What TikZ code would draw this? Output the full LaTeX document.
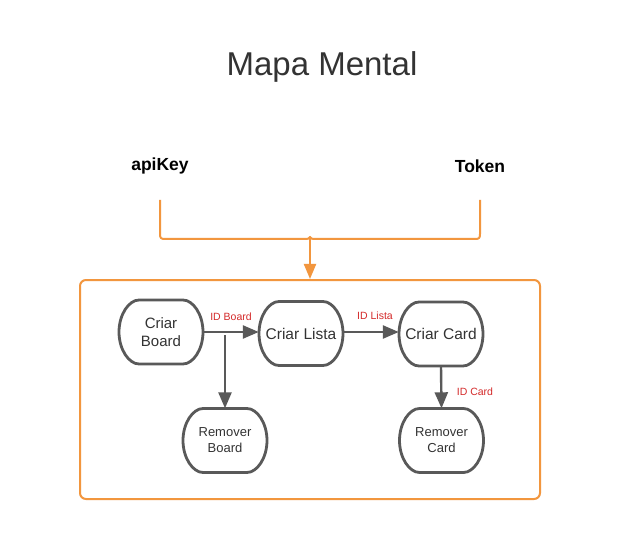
\documentclass[tikz,border=0pt]{standalone}
\usepackage{fontspec}
\setmainfont{Liberation Sans}
\usetikzlibrary{arrows.meta}
\definecolor{orng}{HTML}{F2963E}
\definecolor{lgray}{HTML}{595959}
\definecolor{txt}{HTML}{333333}
\definecolor{lred}{HTML}{D42A2A}
\tikzset{
  stadium/.style={minimum width=84pt, minimum height=64pt, text=txt, align=center, inner sep=0pt},
  ovl/.style={draw=lgray, line width=2.8pt},
  conn/.style={draw=lgray, line width=2.4pt, -{Triangle[length=16pt,width=13pt]}},
  idlabel/.style={text=lred, font=\fontsize{10.5}{12}\selectfont, inner sep=0pt},
  orline/.style={draw=orng, line width=2pt},
}
\newcommand\drawoval[1]{%
  \draw[ovl] ([shift={(-22,-32)}]#1.center) -- ([shift={(22,-32)}]#1.center)
    .. controls ([shift={(32,-32)}]#1.center) and ([shift={(42,-17.7)}]#1.center) .. ([shift={(42,0)}]#1.center)
    .. controls ([shift={(42,17.7)}]#1.center) and ([shift={(32,32)}]#1.center) .. ([shift={(22,32)}]#1.center)
    -- ([shift={(-22,32)}]#1.center)
    .. controls ([shift={(-32,32)}]#1.center) and ([shift={(-42,17.7)}]#1.center) .. ([shift={(-42,0)}]#1.center)
    .. controls ([shift={(-42,-17.7)}]#1.center) and ([shift={(-32,-32)}]#1.center) .. ([shift={(-22,-32)}]#1.center) -- cycle;}
\begin{document}
\begin{tikzpicture}[x=1pt,y=-1pt]
\useasboundingbox (0,0) rectangle (640,540);
\fill[white] (0,0) rectangle (640,540);
\node[text=txt, font=\fontsize{33}{38}\selectfont] (title) at (322,67) {Mapa Mental};
\node[font=\bfseries\fontsize{17.5}{20}\selectfont] (api) at (160,166) {apiKey};
\node[font=\bfseries\fontsize{17.5}{20}\selectfont] (tok) at (480,166) {Token};
\coordinate (bl) at (160,200);
\coordinate (br) at (480,200);
\coordinate (bm) at (310,237);
\node[orline, rounded corners=6pt, minimum width=460pt, minimum height=219pt, inner sep=0pt] (frame) at (310,389.5) {};
\draw[orline, line join=round] (bl) -- (160,234) .. controls (160,238) and (161,239) .. (165,239) -- (304,239) .. controls (308,239) and (310,238.5) .. (bm)
  .. controls (310,238.5) and (312,239) .. (316,239) -- (475,239) .. controls (479,239) and (480,238) .. (480,234) -- (br);
\draw[orline, -{Triangle[length=15pt,width=12pt]}] (bm) -- (frame.north);
\node[stadium, font=\fontsize{15}{18}\selectfont] (cb) at (161,332) {Criar\\Board};
\node[stadium, font=\fontsize{15.5}{18}\selectfont] (cl) at (301,333.5) {Criar Lista};
\node[stadium, font=\fontsize{15.5}{18}\selectfont] (cc) at (441,334) {Criar Card};
\node[stadium, font=\fontsize{13}{16}\selectfont] (rb) at (225,440.5) {Remover\\Board};
\node[stadium, font=\fontsize{13}{16}\selectfont] (rc) at (441.5,440.5) {Remover\\Card};
\drawoval{cb}\drawoval{cl}\drawoval{cc}\drawoval{rb}\drawoval{rc}
\draw[conn] (cb.east |- 0,332) -- (cl.west |- 0,332);
\draw[conn] (225,335) -- (rb.north);
\draw[conn] (cl.east |- 0,332) -- (cc.west |- 0,332);
\draw[conn] (cc.south) -- (rc.north);
\node[idlabel] (l1) at (231,317) {ID Board};
\node[idlabel] (l2) at (375,316) {ID Lista};
\node[idlabel] (l3) at (475,392) {ID Card};
\end{tikzpicture}
\end{document}
